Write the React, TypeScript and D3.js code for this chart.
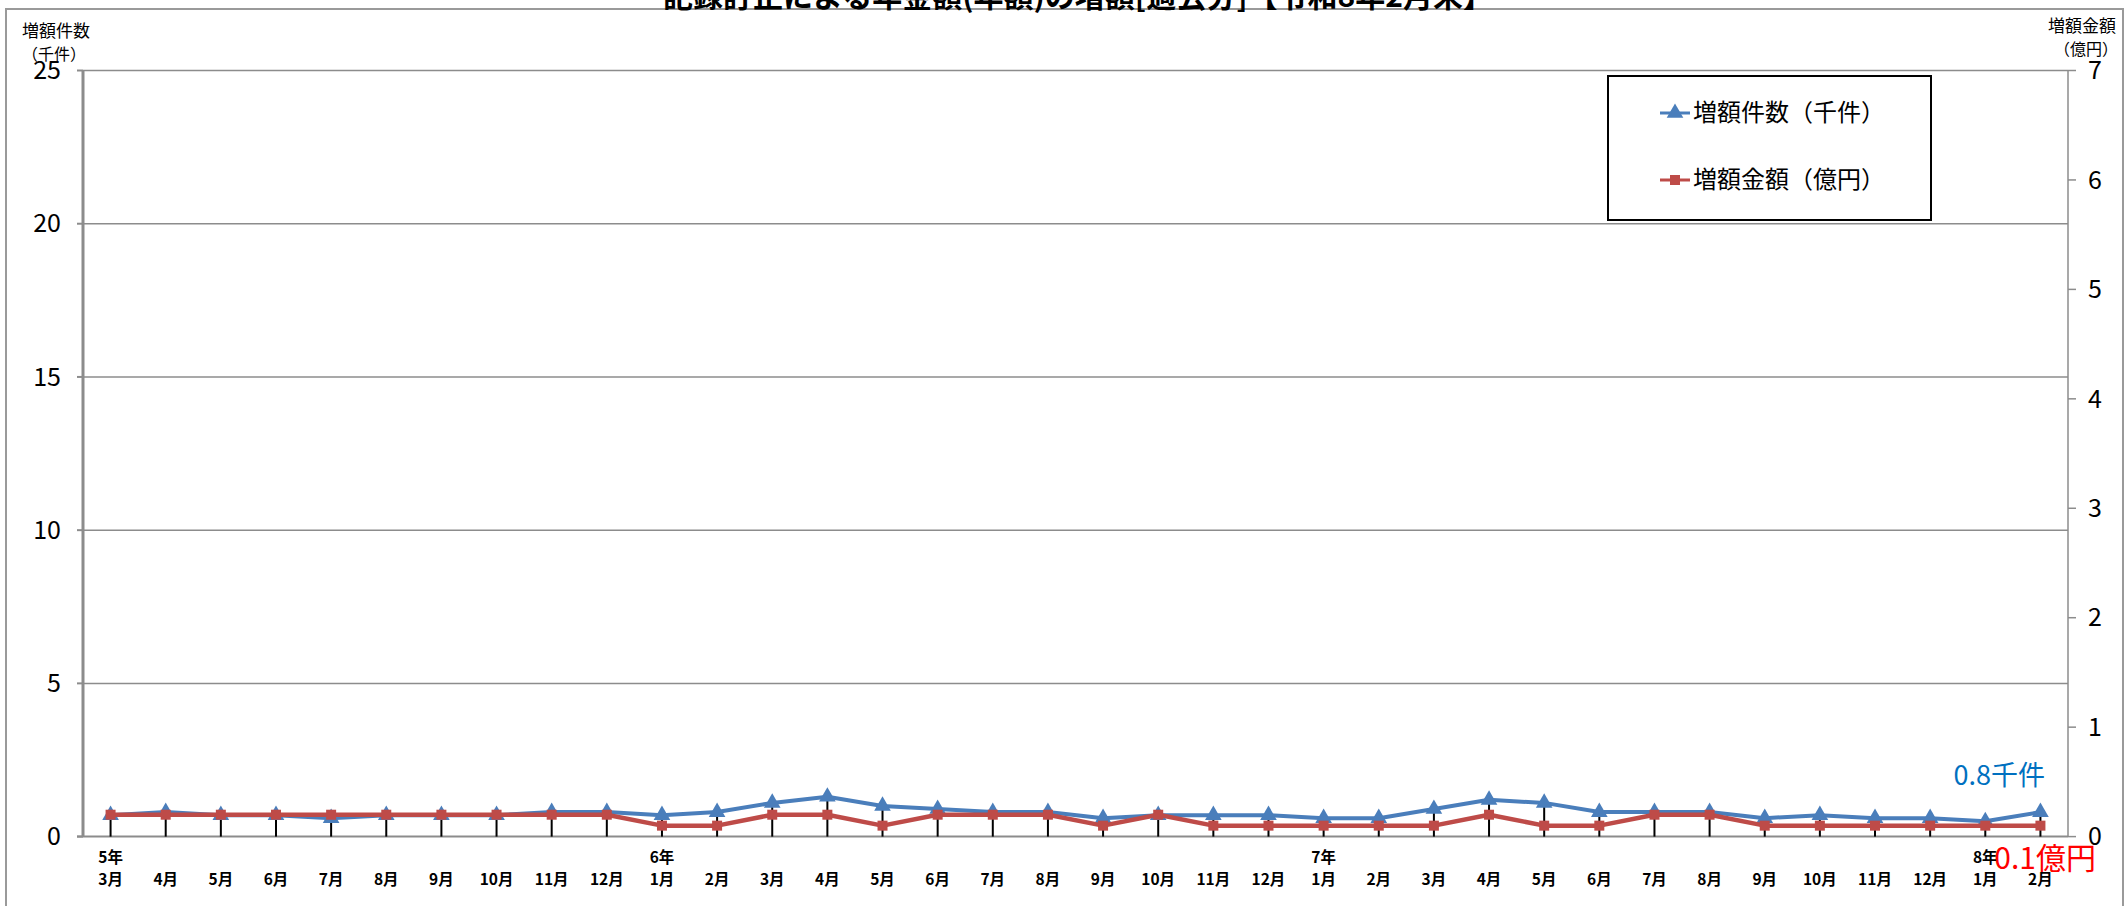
import React from "react";
import * as d3 from "d3";

const years = ["5年", "", "", "", "", "", "", "", "", "", "6年", "", "", "", "", "", "", "", "", "", "", "", "7年", "", "", "", "", "", "", "", "", "", "", "", "8年", ""];
const months = ["3月", "4月", "5月", "6月", "7月", "8月", "9月", "10月", "11月", "12月", "1月", "2月", "3月", "4月", "5月", "6月", "7月", "8月", "9月", "10月", "11月", "12月", "1月", "2月", "3月", "4月", "5月", "6月", "7月", "8月", "9月", "10月", "11月", "12月", "1月", "2月"];
const casesK = [0.7, 0.8, 0.7, 0.7, 0.6, 0.7, 0.7, 0.7, 0.8, 0.8, 0.7, 0.8, 1.1, 1.3, 1.0, 0.9, 0.8, 0.8, 0.6, 0.7, 0.7, 0.7, 0.6, 0.6, 0.9, 1.2, 1.1, 0.8, 0.8, 0.8, 0.6, 0.7, 0.6, 0.6, 0.5, 0.8];
const amountOku = [0.2, 0.2, 0.2, 0.2, 0.2, 0.2, 0.2, 0.2, 0.2, 0.2, 0.1, 0.1, 0.2, 0.2, 0.1, 0.2, 0.2, 0.2, 0.1, 0.2, 0.1, 0.1, 0.1, 0.1, 0.1, 0.2, 0.1, 0.1, 0.2, 0.2, 0.1, 0.1, 0.1, 0.1, 0.1, 0.1];
const leftTicks = [0, 5, 10, 15, 20, 25];
const rightTicks = [0, 1, 2, 3, 4, 5, 6, 7];
const title = "記録訂正による年金額(年額)の増額[過去分]【令和8年2月末】";
const seriesNames = ["増額件数（千件）", "増額金額（億円）"];

const W = 2126;
const H = 906;
const BLUE = "#4A7EBB";
const RED = "#BE4B48";
const FONT = "'Liberation Sans Narrow', 'Noto Sans CJK JP', sans-serif";
const JFONT = "'Noto Sans CJK JP', sans-serif";

export default function App() {
  const left = 83, right = 2068, top = 70.5, bottom = 836.6;
  const idx = months.map((_, i) => i);
  const x = d3.scaleBand<number>().domain(idx).range([left, right]);
  const cx = (i: number) => (x(i) as number) + x.bandwidth() / 2;
  const yL = d3.scaleLinear().domain([0, 25]).range([bottom, top]);
  const yR = d3.scaleLinear().domain([0, 7]).range([bottom, top]);

  const lineL = d3.line<number>().x((_, i) => cx(i)).y((d) => yL(d));
  const lineR = d3.line<number>().x((_, i) => cx(i)).y((d) => yR(d));
  const tri = d3.symbol().type(d3.symbolTriangle).size(120)();
  const sq = d3.symbol().type(d3.symbolSquare).size(100)();

  return (
    <div style={{ position: "fixed", left: 0, top: 0 }}>
      <svg width={W} height={H} style={{ display: "block", background: "#fff" }}>
        <rect x={6} y={9} width={2117} height={905} fill="#fff" stroke="#9a9a9a" strokeWidth={2} />
        <text x={1078} y={7} textAnchor="middle" fontFamily={JFONT} fontWeight="bold" fontSize={30}>{title}</text>

        {/* gridlines */}
        {leftTicks.filter((t) => t > 0).map((t) => (
          <line key={"g" + t} x1={left} x2={right} y1={yL(t)} y2={yL(t)} stroke="#8c8c8c" strokeWidth={1.5} />
        ))}

        {/* axes */}
        <line x1={left} x2={left} y1={top} y2={bottom} stroke="#8c8c8c" strokeWidth={3} />
        <line x1={right} x2={right} y1={top} y2={bottom} stroke="#8c8c8c" strokeWidth={1.5} />
        <line x1={left - 6} x2={right} y1={bottom} y2={bottom} stroke="#8c8c8c" strokeWidth={2} />
        {leftTicks.map((t) => (
          <g key={"l" + t}>
            <line x1={left - 6} x2={left} y1={yL(t)} y2={yL(t)} stroke="#8c8c8c" strokeWidth={2} />
            <text x={61} y={yL(t)} dy="0.35em" textAnchor="end" fontFamily={FONT} fontSize={25}>{t}</text>
          </g>
        ))}
        {rightTicks.map((t) => (
          <g key={"r" + t}>
            <line x1={right} x2={right + 8} y1={yR(t)} y2={yR(t)} stroke="#8c8c8c" strokeWidth={1.5} />
            <text x={2088} y={yR(t)} dy="0.35em" textAnchor="start" fontFamily={FONT} fontSize={25}>{t}</text>
          </g>
        ))}

        {/* axis titles */}
        <text x={22} y={37} fontFamily={JFONT} fontSize={17}>増額件数</text>
        <text x={22} y={60} fontFamily={JFONT} fontSize={16}>（千件）</text>
        <text x={2116} y={32} textAnchor="end" fontFamily={JFONT} fontSize={17}>増額金額</text>
        <text x={2118} y={55} textAnchor="end" fontFamily={JFONT} fontSize={16}>（億円）</text>

        {/* drop lines */}
        {idx.map((i) => (
          <line key={"d" + i} x1={cx(i)} x2={cx(i)} y1={bottom} y2={Math.min(yL(casesK[i]), yR(amountOku[i]))} stroke="#000" strokeWidth={2} />
        ))}

        {/* series */}
        <path d={lineL(casesK) || ""} fill="none" stroke={BLUE} strokeWidth={4} strokeLinejoin="round" />
        {casesK.map((v, i) => (
          <path key={"t" + i} d={tri || ""} transform={`translate(${cx(i)},${yL(v)})`} fill={BLUE} />
        ))}
        <path d={lineR(amountOku) || ""} fill="none" stroke={RED} strokeWidth={4.5} strokeLinejoin="round" />
        {amountOku.map((v, i) => (
          <path key={"s" + i} d={sq || ""} transform={`translate(${cx(i)},${yR(v)})`} fill={RED} />
        ))}

        {/* x labels */}
        {idx.map((i) => (
          <g key={"x" + i}>
            {years[i] && (
              <text x={cx(i)} y={858} dy="0.35em" textAnchor="middle" fontFamily={JFONT} fontWeight="bold" fontSize={15.5}>{years[i]}</text>
            )}
            <text x={cx(i)} y={880} dy="0.35em" textAnchor="middle" fontFamily={JFONT} fontWeight="bold" fontSize={15.5}>{months[i]}</text>
          </g>
        ))}

        {/* legend */}
        <rect x={1608} y={76} width={323} height={144} fill="#fff" stroke="#000" strokeWidth={2} />
        <line x1={1660} x2={1690} y1={113} y2={113} stroke={BLUE} strokeWidth={3} />
        <path d={tri || ""} transform="translate(1675,113)" fill={BLUE} />
        <text x={1693} y={113} dy="0.35em" fontFamily={JFONT} fontSize={24}>{seriesNames[0]}</text>
        <line x1={1660} x2={1690} y1={180} y2={180} stroke={RED} strokeWidth={3} />
        <path d={sq || ""} transform="translate(1675,180)" fill={RED} />
        <text x={1693} y={180} dy="0.35em" fontFamily={JFONT} fontSize={24}>{seriesNames[1]}</text>

        {/* annotations */}
        <text x={2045} y={776} dy="0.35em" textAnchor="end" fontFamily={FONT} fontSize={27} fill="#0070C0">{`${casesK[casesK.length - 1]}千件`}</text>
        <text x={2096} y={858} dy="0.35em" textAnchor="end" fontFamily={FONT} fontSize={30} fill="#FF0000">{`${amountOku[amountOku.length - 1]}億円`}</text>
      </svg>
    </div>
  );
}
